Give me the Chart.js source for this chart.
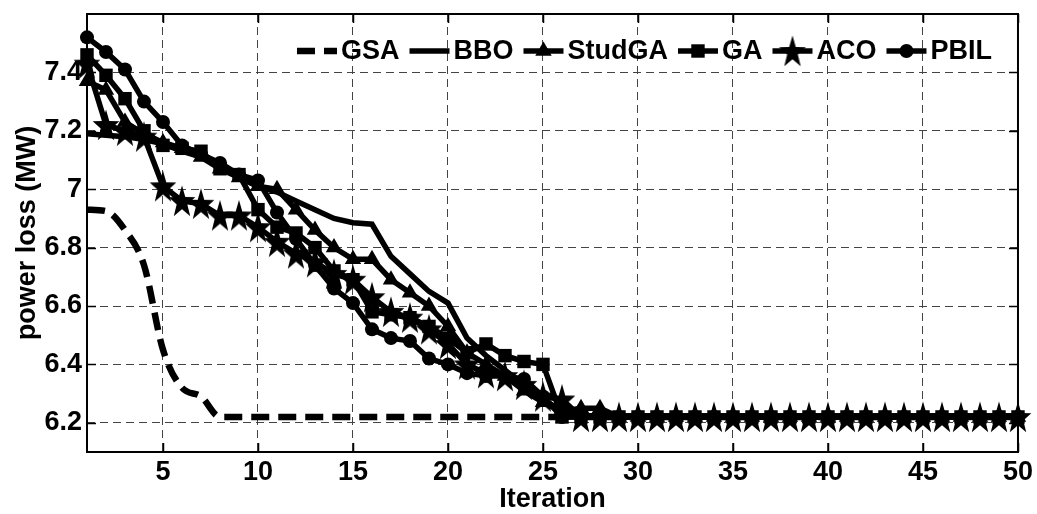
<!DOCTYPE html>
<html>
<head>
<meta charset="utf-8">
<script src="https://cdn.jsdelivr.net/npm/chart.js@4/dist/chart.umd.min.js"></script>
<style>
  html, body { margin: 0; padding: 0; background: #fff; }
  #wrap { width: 1037px; height: 514px; position: relative; }
</style>
</head>
<body>
<div id="wrap"><canvas id="lossChart"></canvas></div>
<script>
const iterations = [
  1, 2, 3, 4, 5, 6, 7, 8, 9, 10,
  11, 12, 13, 14, 15, 16, 17, 18, 19, 20,
  21, 22, 23, 24, 25, 26, 27, 28, 29, 30,
  31, 32, 33, 34, 35, 36, 37, 38, 39, 40,
  41, 42, 43, 44, 45, 46, 47, 48, 49, 50
];
const xTicks = [5, 10, 15, 20, 25, 30, 35, 40, 45, 50];
const yTicks = [6.2, 6.4, 6.6, 6.8, 7, 7.2, 7.4];

const gsaLoss = [
  6.93, 6.925, 6.86, 6.74, 6.45, 6.32, 6.29, 6.22, 6.22, 6.22,
  6.22, 6.22, 6.22, 6.22, 6.22, 6.22, 6.22, 6.22, 6.22, 6.22,
  6.22, 6.22, 6.22, 6.22, 6.22, 6.22, 6.22, 6.22, 6.22, 6.22,
  6.22, 6.22, 6.22, 6.22, 6.22, 6.22, 6.22, 6.22, 6.22, 6.22,
  6.22, 6.22, 6.22, 6.22, 6.22, 6.22, 6.22, 6.22, 6.22, 6.22
];
const bboLoss = [
  7.19, 7.185, 7.18, 7.17, 7.155, 7.13, 7.11, 7.08, 7.04, 7.01,
  6.99, 6.96, 6.93, 6.90, 6.885, 6.88, 6.77, 6.71, 6.65, 6.61,
  6.49, 6.43, 6.38, 6.33, 6.28, 6.24, 6.22, 6.22, 6.22, 6.22,
  6.22, 6.22, 6.22, 6.22, 6.22, 6.22, 6.22, 6.22, 6.22, 6.22,
  6.22, 6.22, 6.22, 6.22, 6.22, 6.22, 6.22, 6.22, 6.22, 6.22
];
const studgaLoss = [
  7.37, 7.34, 7.23, 7.19, 7.16, 7.14, 7.11, 7.07, 7.04, 7.01,
  7.00, 6.93, 6.86, 6.80, 6.76, 6.76, 6.69, 6.645, 6.60, 6.53,
  6.44, 6.40, 6.36, 6.31, 6.27, 6.24, 6.25, 6.25, 6.22, 6.22,
  6.22, 6.22, 6.22, 6.22, 6.22, 6.22, 6.22, 6.22, 6.22, 6.22,
  6.22, 6.22, 6.22, 6.22, 6.22, 6.22, 6.22, 6.22, 6.22, 6.22
];
const gaLoss = [
  7.46, 7.39, 7.31, 7.20, 7.15, 7.14, 7.13, 7.07, 7.05, 6.93,
  6.87, 6.85, 6.80, 6.72, 6.69, 6.58, 6.57, 6.56, 6.53, 6.49,
  6.44, 6.47, 6.43, 6.41, 6.40, 6.22, 6.22, 6.22, 6.22, 6.22,
  6.22, 6.22, 6.22, 6.22, 6.22, 6.22, 6.22, 6.22, 6.22, 6.22,
  6.22, 6.22, 6.22, 6.22, 6.22, 6.22, 6.22, 6.22, 6.22, 6.22
];
const acoLoss = [
  7.43, 7.22, 7.20, 7.18, 7.01, 6.96, 6.95, 6.91, 6.91, 6.87,
  6.82, 6.78, 6.75, 6.71, 6.69, 6.63, 6.58, 6.56, 6.52, 6.47,
  6.40, 6.37, 6.36, 6.33, 6.29, 6.28, 6.22, 6.22, 6.22, 6.22,
  6.22, 6.22, 6.22, 6.22, 6.22, 6.22, 6.22, 6.22, 6.22, 6.22,
  6.22, 6.22, 6.22, 6.22, 6.22, 6.22, 6.22, 6.22, 6.22, 6.22
];
const pbilLoss = [
  7.52, 7.47, 7.41, 7.30, 7.23, 7.15, 7.12, 7.09, 7.05, 7.03,
  6.92, 6.83, 6.74, 6.66, 6.61, 6.52, 6.49, 6.48, 6.42, 6.40,
  6.37, 6.36, 6.36, 6.35, 6.29, 6.22, 6.22, 6.22, 6.22, 6.22,
  6.22, 6.22, 6.22, 6.22, 6.22, 6.22, 6.22, 6.22, 6.22, 6.22,
  6.22, 6.22, 6.22, 6.22, 6.22, 6.22, 6.22, 6.22, 6.22, 6.22
];

const FONT = 'Liberation Sans, Arial, sans-serif';

// filled five point star (a bit taller than wide, like the original figure)
const makeStar = (w, h) => {
  const c = document.createElement('canvas');
  c.width = w;
  c.height = h;
  const g = c.getContext('2d');
  const rx = w / 2, ry = h / 2;
  g.fillStyle = '#000';
  g.beginPath();
  for (let k = 0; k < 10; k++) {
    const a = -Math.PI / 2 + k * Math.PI / 5;
    const f = k % 2 ? 0.4 : 1;
    g.lineTo(rx + f * rx * Math.cos(a), ry + f * ry * Math.sin(a) + 1.5);
  }
  g.closePath();
  g.fill();
  return c;
};
const star = makeStar(28, 34);

const toPoints = (vals) => iterations.map((x, i) => ({ x, y: vals[i] }));

const series = (label, vals, extra) => Object.assign({
  label,
  data: toPoints(vals),
  borderColor: '#000',
  backgroundColor: '#000',
  pointBackgroundColor: '#000',
  pointBorderColor: '#000',
  pointBorderWidth: 0,
  borderWidth: 5.5,
  tension: 0,
  clip: false
}, extra);

const datasets = [
  series('GSA', gsaLoss, { borderWidth: 6.5, borderDash: [18, 9], pointRadius: 0, cubicInterpolationMode: 'monotone', order: 5 }),
  series('BBO', bboLoss, { pointRadius: 0, order: 4 }),
  series('StudGA', studgaLoss, { pointStyle: 'triangle', pointRadius: 9.5, order: 3 }),
  series('GA', gaLoss, { pointStyle: 'rect', pointRadius: 9.5, order: 2 }),
  series('ACO', acoLoss, { pointStyle: star, pointRadius: 14, order: 0 }),
  series('PBIL', pbilLoss, { pointStyle: 'circle', pointRadius: 7, order: 1 })
];

// matlab style box with inner tick marks
const boxPlugin = {
  id: 'box',
  beforeDatasetsDraw(chart) {
    const { ctx, chartArea: a, scales } = chart;
    ctx.save();
    ctx.strokeStyle = '#000';
    ctx.lineWidth = 1.5;
    ctx.setLineDash([]);
    ctx.beginPath();
    xTicks.forEach(v => {
      const px = Math.round(scales.x.getPixelForValue(v)) + 0.5;
      ctx.moveTo(px, a.bottom); ctx.lineTo(px, a.bottom - 9);
      ctx.moveTo(px, a.top); ctx.lineTo(px, a.top + 9);
    });
    yTicks.forEach(v => {
      const py = Math.round(scales.y.getPixelForValue(v)) + 0.5;
      ctx.moveTo(a.left, py); ctx.lineTo(a.left + 9, py);
      ctx.moveTo(a.right, py); ctx.lineTo(a.right - 9, py);
    });
    ctx.stroke();
    ctx.lineWidth = 2;
    ctx.strokeRect(a.left, a.top, a.right - a.left, a.bottom - a.top);
    ctx.restore();
  }
};

// legend drawn inside the plot, line sample + marker + name
const legendPlugin = {
  id: 'innerLegend',
  afterDatasetsDraw(chart) {
    const { ctx, chartArea: a } = chart;
    const sample = 40, gap = 4, spacing = 10;
    const y = a.top + 37;
    ctx.save();
    ctx.font = 'bold 27px ' + FONT;
    ctx.textBaseline = 'middle';
    const items = chart.data.datasets.map(ds => ({ ds, w: ctx.measureText(ds.label).width }));
    const total = items.reduce((s, it) => s + sample + gap + it.w, 0) + spacing * (items.length - 1);
    let x = a.right - 26 - total;
    items.forEach(({ ds, w }) => {
      ctx.strokeStyle = '#000';
      ctx.fillStyle = '#000';
      ctx.lineWidth = ds.borderWidth;
      ctx.setLineDash(ds.borderDash || []);
      ctx.beginPath();
      ctx.moveTo(x, y);
      ctx.lineTo(x + sample, y);
      ctx.stroke();
      ctx.setLineDash([]);
      if (ds.pointRadius) {
        Chart.helpers.drawPoint(ctx, {
          pointStyle: ds.pointStyle, radius: ds.pointRadius, rotation: 0, borderWidth: 0
        }, x + sample / 2, y);
      }
      x += sample + gap;
      ctx.fillText(ds.label, x, y + 1);
      x += w + spacing;
    });
    ctx.restore();
  }
};

new Chart(document.getElementById('lossChart').getContext('2d'), {
  type: 'line',
  data: { datasets },
  options: {
    responsive: true,
    maintainAspectRatio: false,
    animation: false,
    layout: { padding: { left: 0, right: 18, top: 13, bottom: 0 } },
    plugins: { legend: { display: false }, tooltip: { enabled: false } },
    scales: {
      x: {
        type: 'linear',
        min: 1,
        max: 50,
        afterBuildTicks: (scale) => { scale.ticks = xTicks.map(value => ({ value })); },
        afterFit: (scale) => { scale.height = 62; },
        grid: { color: '#444', lineWidth: 1, drawTicks: false },
        border: { display: false, dash: [8, 5] },
        ticks: {
          color: '#000',
          padding: 4,
          maxRotation: 0,
          autoSkip: false,
          font: { family: FONT, size: 27, weight: 'bold' }
        },
        title: {
          display: true,
          text: 'Iteration',
          color: '#000',
          padding: { top: 0, bottom: 1 },
          font: { family: FONT, size: 27, weight: 'bold', lineHeight: 1 }
        }
      },
      y: {
        min: 6.1,
        max: 7.6,
        afterBuildTicks: (scale) => { scale.ticks = yTicks.map(value => ({ value })); },
        afterFit: (scale) => {
          scale.width = 87;
          scale.paddingTop = 0;
          scale.paddingBottom = 0;
        },
        grid: { color: '#444', lineWidth: 1, drawTicks: false },
        border: { display: false, dash: [8, 5] },
        ticks: {
          color: '#000',
          padding: 5,
          autoSkip: false,
          callback: (v) => String(v),
          font: { family: FONT, size: 27, weight: 'bold' }
        },
        title: {
          display: true,
          text: 'power loss (MW)',
          color: '#000',
          padding: { top: 11, bottom: 0 },
          font: { family: FONT, size: 27, weight: 'bold' }
        }
      }
    }
  },
  plugins: [boxPlugin, legendPlugin]
});
</script>
</body>
</html>
